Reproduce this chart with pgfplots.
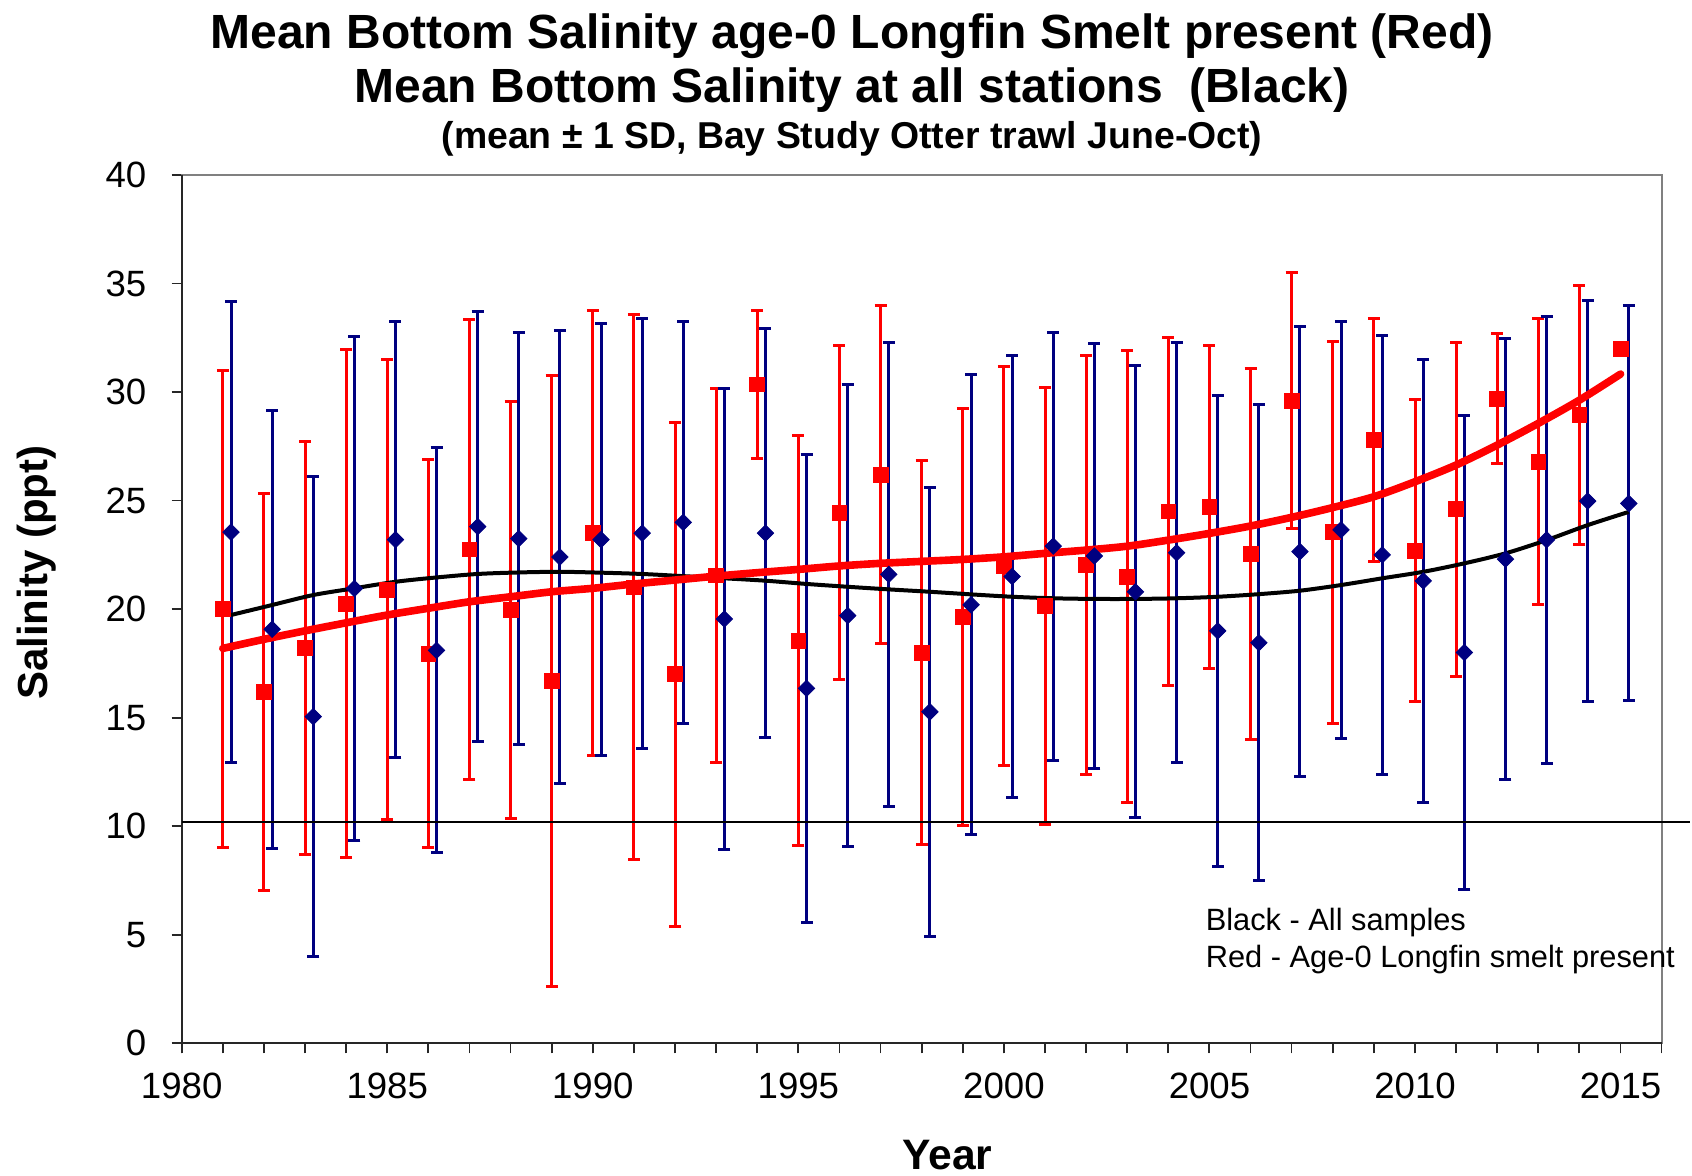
\documentclass[border=0pt]{standalone}
\usepackage{fontspec}
\setmainfont{Liberation Sans}
\usepackage{pgfplots}
\usepackage{pgfplotstable}
\pgfplotsset{compat=1.18}
\definecolor{navyb}{RGB}{0,0,128}
\definecolor{redc}{RGB}{255,0,0}

\pgfplotstableread{
x y e
1981 20.0 11.0
1982 16.2 9.15
1983 18.2 9.5
1984 20.25 11.7
1985 20.9 10.6
1986 17.95 8.95
1987 22.75 10.6
1988 19.95 9.6
1989 16.7 14.07
1990 23.5 10.25
1991 21.0 12.55
1992 17.0 11.6
1993 21.55 8.6
1994 30.35 3.4
1995 18.55 9.45
1996 24.45 7.7
1997 26.2 7.8
1998 18.0 8.85
1999 19.65 9.6
2000 22.0 9.2
2001 20.15 10.05
2002 22.05 9.65
2003 21.5 10.4
2004 24.5 8.03
2005 24.7 7.43
2006 22.55 8.55
2007 29.6 5.9
2008 23.55 8.8
2009 27.8 5.6
2010 22.7 6.95
2011 24.6 7.7
2012 29.7 3.0
2013 26.8 6.57
2014 28.95 5.96
2015 32.0 0
}\reddata

\pgfplotstableread{
x y e
1981.2 23.55 10.6
1982.2 19.07 10.1
1983.2 15.05 11.07
1984.2 20.95 11.6
1985.2 23.2 10.05
1986.2 18.1 9.33
1987.2 23.8 9.9
1988.2 23.25 9.5
1989.2 22.4 10.45
1990.2 23.2 9.95
1991.2 23.5 9.9
1992.2 24.0 9.25
1993.2 19.55 10.6
1994.2 23.5 9.42
1995.2 16.35 10.77
1996.2 19.7 10.65
1997.2 21.6 10.68
1998.2 15.27 10.35
1999.2 20.2 10.6
2000.2 21.5 10.2
2001.2 22.9 9.85
2002.2 22.45 9.8
2003.2 20.8 10.42
2004.2 22.6 9.67
2005.2 19.0 10.86
2006.2 18.45 10.97
2007.2 22.65 10.37
2008.2 23.65 9.6
2009.2 22.5 10.12
2010.2 21.3 10.2
2011.2 18.0 10.9
2012.2 22.3 10.16
2013.2 23.2 10.3
2014.2 24.98 9.25
2015.2 24.87 9.1
}\bluedata

\pgfplotstableread{
x y
1981 18.19
1982 18.61
1983 19.0
1984 19.37
1985 19.73
1986 20.04
1987 20.34
1988 20.57
1989 20.8
1990 20.96
1991 21.16
1992 21.34
1993 21.52
1994 21.68
1995 21.83
1996 21.99
1997 22.11
1998 22.2
1999 22.29
2000 22.41
2001 22.57
2002 22.72
2003 22.9
2004 23.18
2005 23.49
2006 23.83
2007 24.23
2008 24.68
2009 25.18
2010 25.87
2011 26.64
2012 27.56
2013 28.56
2014 29.63
2015 30.83
}\redtrend

\pgfplotstableread{
x y
1981.2 19.73
1982.2 20.19
1983.2 20.65
1984.2 20.96
1985.2 21.26
1986.2 21.46
1987.2 21.62
1988.2 21.69
1989.2 21.72
1990.2 21.68
1991.2 21.62
1992.2 21.52
1993.2 21.42
1994.2 21.31
1995.2 21.16
1996.2 21.03
1997.2 20.91
1998.2 20.8
1999.2 20.68
2000.2 20.57
2001.2 20.5
2002.2 20.47
2003.2 20.47
2004.2 20.5
2005.2 20.57
2006.2 20.69
2007.2 20.85
2008.2 21.11
2009.2 21.42
2010.2 21.72
2011.2 22.11
2012.2 22.57
2013.2 23.18
2014.2 23.87
2015.2 24.48
}\blacktrend

\begin{document}
\begin{tikzpicture}
\useasboundingbox (0,0) rectangle (846pt,588pt);
\begin{axis}[
  at={(90.85pt,66.35pt)}, anchor=south west,
  width=740pt, height=434.15pt, scale only axis,
  xmin=1980, xmax=2016, ymin=0, ymax=40,
  clip=false,
  axis line style={draw=black!50, line width=1pt},
  xtick={1980,1985,...,2015}, minor xtick={1980,...,2016},
  ytick={0,5,...,40},
  tick align=outside, major tick length=5pt, minor tick length=5pt,
  every tick/.style={black!85, line width=0.9pt},
  xtick pos=bottom, ytick pos=left,
  /pgf/number format/assume math mode=true,
  /pgf/number format/1000 sep={},
  ticklabel style={font=\fontsize{18.3}{21}\selectfont},
  xticklabel style={anchor=base, yshift=-22.5pt},
  yticklabel style={anchor=east, xshift=-9.2pt},
]
\draw[black!85, line width=1.1pt] (rel axis cs:0,1) -- (rel axis cs:0,0) -- (rel axis cs:1,0);

\addplot[only marks, mark=square*, mark size=3.7pt, color=redc,
  mark options={draw=redc, fill=redc},
  error bars/.cd, y dir=both, y explicit,
  error bar style={line width=1.5pt, redc},
  error mark options={rotate=90, line width=1.5pt, redc, mark size=3pt}]
  table[x=x, y=y, y error=e] {\reddata};

\addplot[only marks, mark=square*, mark size=2.9pt, color=navyb,
  mark options={draw=navyb, fill=navyb, rotate=45},
  error bars/.cd, y dir=both, y explicit,
  error bar style={line width=1.5pt, navyb},
  error mark options={rotate=90, line width=1.5pt, navyb, mark size=3pt}]
  table[x=x, y=y, y error=e] {\bluedata};

\addplot[black, line width=2pt, smooth, no markers] table[x=x,y=y] {\blacktrend};
\addplot[redc, line width=3.8pt, smooth, no markers, line cap=round] table[x=x,y=y] {\redtrend};

\addplot[black, line width=1pt, no markers] coordinates {(1980,10.2) (2016.7,10.2)};

\node[anchor=west, align=left, font=\fontsize{15.4}{18.3}\selectfont, inner sep=0pt]
  at (axis cs:2004.9,4.72) {Black - All samples\\Red - Age-0 Longfin smelt present};
\end{axis}

\node[anchor=base, font=\fontsize{24}{28}\selectfont\bfseries] at (426pt,563.7pt)
  {Mean Bottom Salinity age-0 Longfin Smelt present (Red)};
\node[anchor=base, font=\fontsize{24}{28}\selectfont\bfseries] at (426pt,536.7pt)
  {Mean Bottom Salinity at all stations \ (Black)};
\node[anchor=base, font=\fontsize{18.7}{22}\selectfont\bfseries] at (426pt,513.5pt)
  {(mean ± 1 SD, Bay Study Otter trawl June-Oct)};
\node[anchor=base, inner sep=0pt, font=\fontsize{21.3}{25}\selectfont\bfseries] at (473.7pt,3pt) {Year};
\node[anchor=base, inner sep=0pt, rotate=90, font=\fontsize{21}{25}\selectfont\bfseries] at (24pt,301.7pt) {Salinity (ppt)};
\end{tikzpicture}
\end{document}
